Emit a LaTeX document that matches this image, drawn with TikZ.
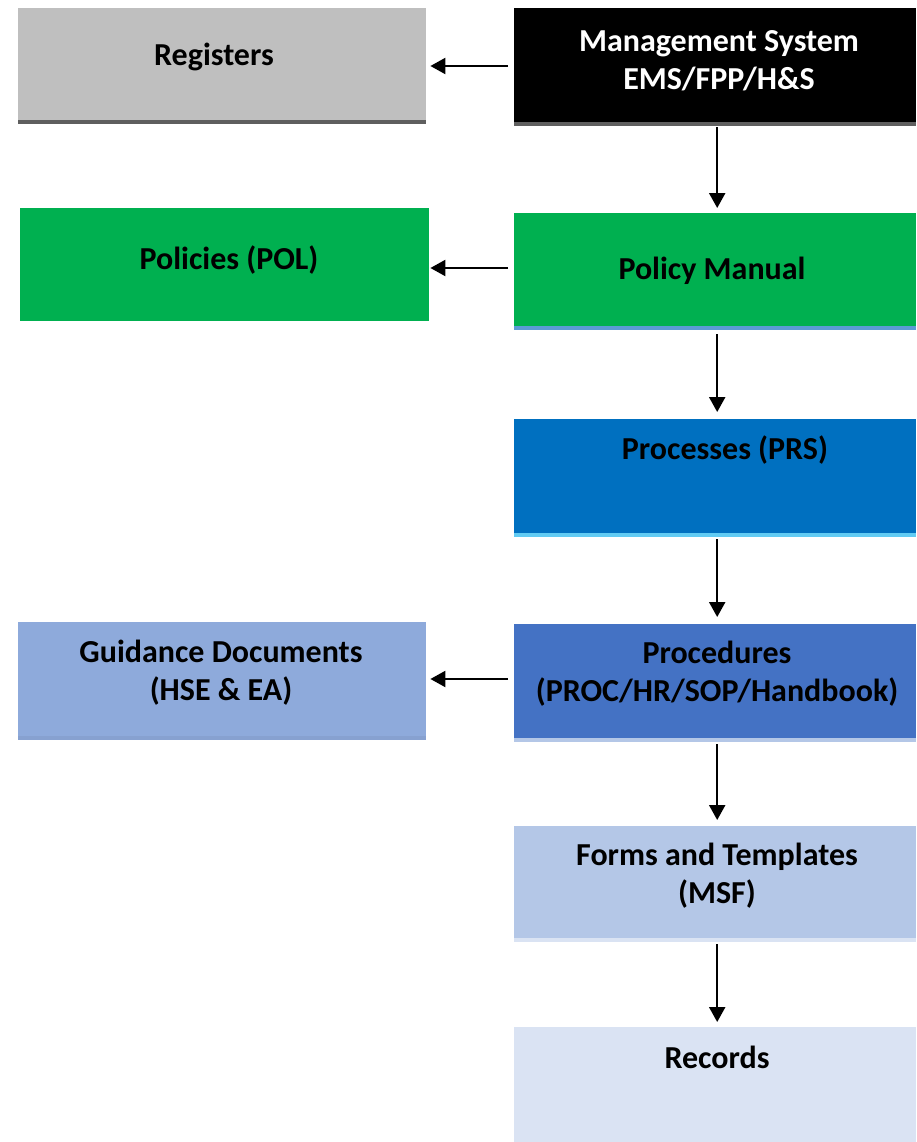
\documentclass[tikz,border=0pt]{standalone}
\usepackage{fontspec}
\setmainfont{Carlito}
\usetikzlibrary{arrows.meta}

\definecolor{regfill}{HTML}{BFBFBF}
\definecolor{darkrule}{HTML}{5F5F5F}
\definecolor{polgreen}{HTML}{00B050}
\definecolor{pmrule}{HTML}{5B9BD5}
\definecolor{prsblue}{HTML}{0070C0}
\definecolor{prsrule}{HTML}{61CBF3}
\definecolor{guidefill}{HTML}{8EAADB}
\definecolor{procblue}{HTML}{4472C4}
\definecolor{formfill}{HTML}{B4C7E7}
\definecolor{recfill}{HTML}{DAE3F3}

\tikzset{
  box/.style={rectangle, inner sep=0pt, anchor=north west, minimum width=#1},
  box/.default=402pt,
  bottomrule/.style={path picture={\fill[#1] ([yshift=4pt]path picture bounding box.south west) rectangle (path picture bounding box.south east);}},
  txt/.style={align=center, font=\fontsize{32}{38}\selectfont\bfseries},
  arr/.style={-{Triangle[width=16pt,length=15pt]}, line width=2.2pt},
}

\begin{document}
\begin{tikzpicture}[x=1pt,y=-1pt]
\useasboundingbox (0,0) rectangle (916,1142);
% boxes
\node[box=408pt, minimum height=116pt, fill=regfill, bottomrule=darkrule] (reg) at (18,8) {};
\node[box, minimum height=118pt, fill=black, bottomrule=darkrule] (ms) at (514,8) {};
\node[box=409pt, minimum height=113pt, fill=polgreen] (pol) at (20,208) {};
\node[box, minimum height=117pt, fill=polgreen, bottomrule=pmrule] (pm) at (514,213) {};
\node[box, minimum height=118pt, fill=prsblue, bottomrule=prsrule] (prs) at (514,419) {};
\node[box=408pt, minimum height=118pt, fill=guidefill, bottomrule=guidefill!95!black] (guide) at (18,622) {};
\node[box, minimum height=118pt, fill=procblue, bottomrule=formfill] (proc) at (514,624) {};
\node[box, minimum height=116pt, fill=formfill, bottomrule=recfill] (forms) at (514,826) {};
\node[box, minimum height=115pt, fill=recfill] (rec) at (514,1027) {};
% labels
\node[txt] (regtxt) at (214,57) {Registers};
\node[txt, text=white] (mstxt) at (719,61) {Management System\\EMS/FPP/H\&S};
\node[txt] (poltxt) at (229,260) {Policies (POL)};
\node[txt] (pmtxt) at (712,271) {Policy Manual};
\node[txt] (prstxt) at (725,450) {Processes (PRS)};
\node[txt] (guidetxt) at (221,673) {Guidance Documents\\(HSE \& EA)};
\node[txt] (proctxt) at (717,674) {Procedures\\(PROC/HR/SOP/Handbook)};
\node[txt] (formstxt) at (717,876) {Forms and Templates\\(MSF)};
\node[txt] (rectxt) at (717,1057) {Records};
% connectors
\draw[arr, shorten <=6pt, shorten >=4pt] (ms.west |- 0,66) -- (reg.east |- 0,66);
\draw[arr, shorten <=6pt, shorten >=1pt] (pm.west |- 0,268) -- (pol.east |- 0,268);
\draw[arr, shorten <=6pt, shorten >=4pt] (proc.west |- 0,679) -- (guide.east |- 0,679);
\draw[arr, shorten <=1pt, shorten >=5pt] ([xshift=2pt]ms.south) -- ([xshift=2pt]pm.north);
\draw[arr, shorten <=4pt, shorten >=7pt] ([xshift=2pt]pm.south) -- ([xshift=2pt]prs.north);
\draw[arr, shorten <=2pt, shorten >=7pt] ([xshift=2pt]prs.south) -- ([xshift=2pt]proc.north);
\draw[arr, shorten <=2pt, shorten >=6pt] ([xshift=2pt]proc.south) -- ([xshift=2pt]forms.north);
\draw[arr, shorten <=2pt, shorten >=5pt] ([xshift=2pt]forms.south) -- ([xshift=2pt]rec.north);
\end{tikzpicture}
\end{document}
